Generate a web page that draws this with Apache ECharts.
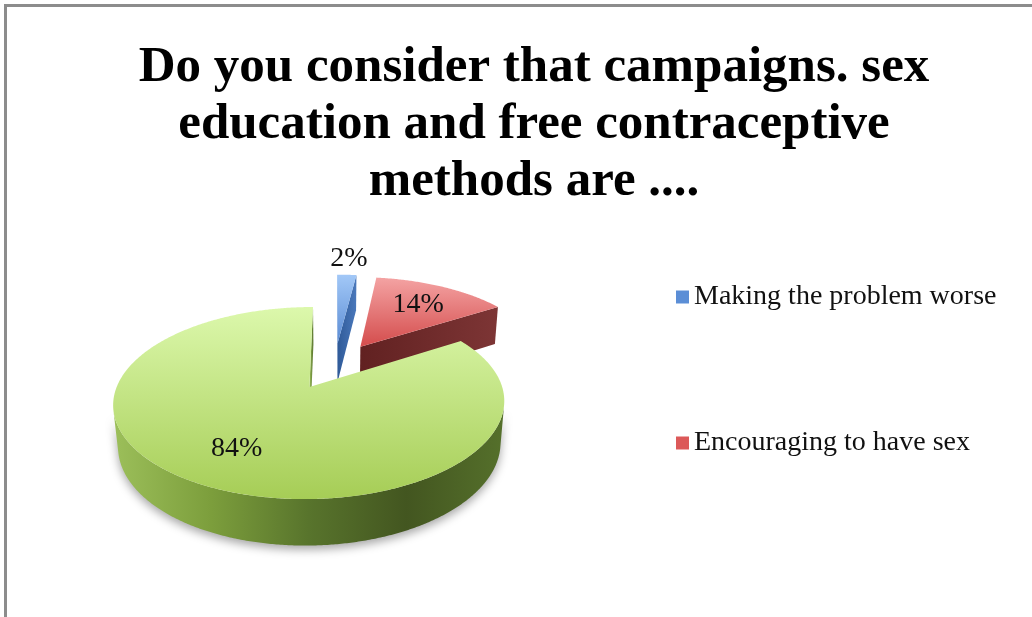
<!DOCTYPE html>
<html>
<head>
<meta charset="utf-8">
<script src="https://cdn.jsdelivr.net/npm/echarts@6/dist/echarts.min.js"></script>
<style>
html,body{margin:0;padding:0;background:#ffffff;}
#chart{width:1032px;height:617px;}
</style>
</head>
<body>
<div id="chart"></div>
<script>
// ---------- data ----------
const titleText = 'Do you consider that campaigns. sex\neducation and free contraceptive\nmethods are ....';
const categories = ['Making the problem worse', 'Encouraging to have sex', 'Helping to solve the problem'];
const values = [2, 14, 84];
const legendShown = ['Making the problem worse', 'Encouraging to have sex'];

// ---------- styles (not data) ----------
const palette = [
  { legend: '#5b8ed6', top: ['#a2c8f7', '#5a8bd4'], wall: ['#2f5a98', '#4a78bb'] },
  { legend: '#dc5959', top: ['#f4a3a3', '#d44c4c'], wall: ['#612121', '#7d3535'] },
  { legend: '#a9d05b', top: ['#dcf8ac', '#a6cd56'], wall: ['#9cbf5a', '#7c9e3c', '#58742c', '#435620', '#55702b'] }
];

// ---------- pie geometry (layout) ----------
const total = values.reduce((s, v) => s + v, 0);
const starts = [], ends = [];
(function () {
  let acc = 0;
  values.forEach(v => {
    starts.push(acc / total * 2 * Math.PI);
    acc += v;
    ends.push(acc / total * 2 * Math.PI);
  });
})();

// perspective camera for the tilted pie
const P = { f: 1023.6, s: 0.466, c: 0.885, D: 5.519, e: 0.27, h: 0.25, bx: 334.5, by: 365.8 };
function proj(u, w, v) {
  const depth = P.D - w * P.s + v * P.c;
  return [P.bx + P.f * u / depth, P.by - P.f * (w * P.c + v * P.s) / depth];
}

function renderSlice(params, api) {
  const i = params.seriesIndex;
  const val = api.value(0);
  const a = starts[i], b = ends[i], mid = (a + b) / 2;
  const cu = P.e * Math.sin(mid), cv = P.e * Math.cos(mid);
  const rim = (t, w) => proj(cu + Math.sin(t), w, cv + Math.cos(t));
  const arc = (t1, t2, w) => {
    const n = Math.max(2, Math.ceil(Math.abs(t2 - t1) / (Math.PI / 360)));
    const pts = [];
    for (let k = 0; k <= n; k++) pts.push(rim(t1 + (t2 - t1) * k / n, w));
    return pts;
  };
  const pal = palette[i];
  const children = [];
  const camV = -P.D * P.c;

  // radial walls
  [[a, [-Math.cos(a), Math.sin(a)]], [b, [Math.cos(b), -Math.sin(b)]]].forEach(([t, n]) => {
    const vis = (0 - cu) * n[0] + (camV - cv) * n[1];
    if (vis > 1e-4) {
      children.push({
        type: 'polygon',
        shape: { points: [proj(cu, 0, cv), rim(t, 0), rim(t, -P.h), proj(cu, -P.h, cv)] },
        style: { fill: new echarts.graphic.LinearGradient(0, 0, 1, 0, [
          { offset: 0, color: pal.wall[0] }, { offset: 1, color: pal.wall[pal.wall.length - 1] }]) }
      });
    }
  });

  // outer (curved) wall, only the part facing the viewer
  const visOuter = t => (-cu * Math.sin(t) - cv * Math.cos(t) - 1 - P.D * P.c * Math.cos(t)) > 0;
  const stepN = Math.max(8, Math.ceil((b - a) / (Math.PI / 720)));
  let runStart = null;
  const runs = [];
  for (let k = 0; k <= stepN; k++) {
    const t = a + (b - a) * k / stepN;
    const v = visOuter(t);
    if (v && runStart === null) runStart = t;
    if ((!v || k === stepN) && runStart !== null) {
      runs.push([runStart, v ? t : a + (b - a) * (k - 1) / stepN]);
      runStart = null;
    }
  }
  runs.forEach(([t1, t2]) => {
    if (t2 - t1 < 1e-3) return;
    const pts = arc(t1, t2, 0).concat(arc(t2, t1, -P.h));
    const stops = pal.wall.map((col, k) => ({ offset: k / (pal.wall.length - 1), color: col }));
    children.push({
      type: 'polygon',
      shape: { points: pts },
      style: {
        fill: new echarts.graphic.LinearGradient(0, 0, 1, 0, stops),
        shadowBlur: 10, shadowColor: 'rgba(0,0,0,0.35)', shadowOffsetY: 4
      }
    });
  });

  // top face
  children.push({
    type: 'polygon',
    shape: { points: [proj(cu, 0, cv)].concat(arc(a, b, 0)) },
    style: { fill: new echarts.graphic.LinearGradient(0, 0, 0, 1, [
      { offset: 0, color: pal.top[0] }, { offset: 1, color: pal.top[1] }]) }
  });

  // label
  const share = val / total;
  const r = share < 0.05 ? 1.28 : 0.68;
  const lp = proj(cu + r * Math.sin(mid), 0, cv + r * Math.cos(mid));
  children.push({
    type: 'text',
    x: lp[0], y: lp[1],
    style: {
      text: Math.round(share * 100) + '%',
      fill: '#111111',
      font: '28px "Liberation Serif"',
      align: 'center', verticalAlign: 'middle'
    }
  });

  return { type: 'group', children: children };
}

const chart = echarts.init(document.getElementById('chart'), null, { renderer: 'canvas' });
chart.setOption({
  animation: false,
  backgroundColor: '#ffffff',
  title: {
    text: titleText,
    left: 529, top: 34,
    textAlign: 'center',
    textStyle: {
      fontFamily: '"Liberation Serif"', fontWeight: 'bold',
      fontSize: 51, lineHeight: 57, color: '#000000'
    }
  },
  legend: {
    data: legendShown,
    orient: 'vertical',
    left: 676, top: 283,
    padding: 0,
    itemWidth: 13, itemHeight: 13,
    itemGap: 118,
    itemStyle: { borderWidth: 0 },
    icon: 'rect',
    textStyle: { fontFamily: '"Liberation Serif"', fontSize: 28, color: '#111111' },
    selectedMode: false
  },
  graphic: [{
    type: 'rect', silent: true, z: 100,
    shape: { x: 5.5, y: 5.5, width: 1100, height: 700 },
    style: { fill: 'none', stroke: '#8c8c8c', lineWidth: 3 }
  }],
  series: categories.map((name, i) => ({
    type: 'custom',
    name: name,
    coordinateSystem: 'none',
    silent: true,
    itemStyle: { color: palette[i].legend },
    data: [[values[i]]],
    renderItem: renderSlice
  }))
});
</script>
</body>
</html>
